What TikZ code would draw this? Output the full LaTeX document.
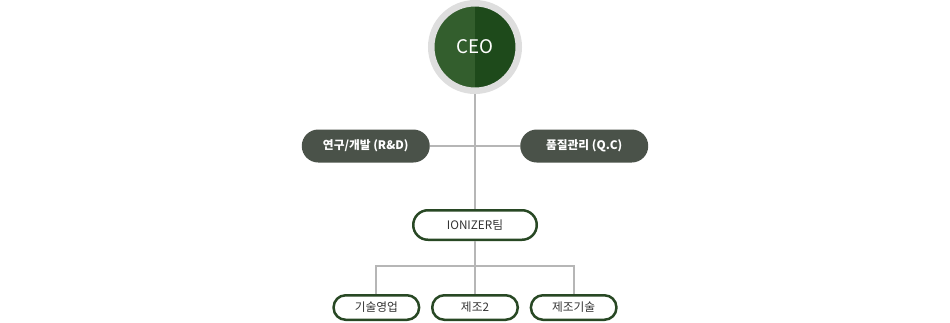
\documentclass[tikz,border=0pt]{standalone}
\usepackage{fontspec}
\setmainfont{Noto Sans CJK KR}
\usetikzlibrary{positioning}
\definecolor{CeoDark}{RGB}{30, 74, 27}
\definecolor{CeoLight}{RGB}{51, 94, 45}
\definecolor{RingGray}{RGB}{222, 222, 222}
\definecolor{LineGray}{RGB}{182, 182, 182}
\definecolor{SlateGreen}{RGB}{74, 82, 73}
\definecolor{TeamGreen}{RGB}{40, 72, 36}
\definecolor{TextGray}{RGB}{51, 51, 51}

\begin{document}
\begin{tikzpicture}[
                    x=0.03cm, y=-0.03cm,
                    node distance=0.3cm,
                    ceo/.style={circle, fill=CeoDark, draw=RingGray, line width=0.195cm, minimum size=2.625cm, inner sep=0pt, text=white, font=\fontsize{16}{19}\selectfont,
                        path picture={\fill[CeoLight] (path picture bounding box.north west) rectangle (path picture bounding box.south);}},
                    dept/.style={rectangle, rounded corners=0.495cm, fill=SlateGreen, text=white, font=\fontsize{10}{12}\selectfont\bfseries, minimum width=3.84cm, minimum height=0.99cm, inner sep=0pt},
                    team/.style={rectangle, rounded corners=0.44cm, draw=TeamGreen, line width=0.075cm, fill=white, text=TextGray, font=\fontsize{10}{12}\selectfont, minimum width=3.705cm, minimum height=0.885cm, inner sep=0pt},
                    unit/.style={team, rounded corners=0.36cm, minimum width=2.565cm, minimum height=0.735cm},
                    link/.style={draw=LineGray, line width=0.06cm}
                ]
                    \useasboundingbox[fill=white] (0,0) rectangle (950,322);

                    \node[ceo] (ceo) at (475,47) {CEO};
                    \coordinate (hub) at (475,146);
                    \node[dept, left=1.35cm of hub] (rnd) {연구/개발 (R\&D)};
                    \node[dept, right=1.35cm of hub] (qc) {품질관리 (Q.C)};
                    \node[team] (ionizer) at (475,225) {IONIZER팀};
                    \node[unit, below=1.59cm of ionizer] (prod) {제조2};
                    \node[unit, left=0.32cm of prod] (sales) {기술영업};
                    \node[unit, right=0.32cm of prod] (tech) {제조기술};
                    \coordinate (fork) at (475,266);

                    \draw[link] (ceo) -- (ionizer);
                    \draw[link] (rnd) -- (qc);
                    \draw[link] (ionizer) -- (fork);
                    \draw[link] (sales.north) |- (fork) -| (tech.north);
                    \draw[link] (fork) -- (prod);
                \end{tikzpicture}
\end{document}
